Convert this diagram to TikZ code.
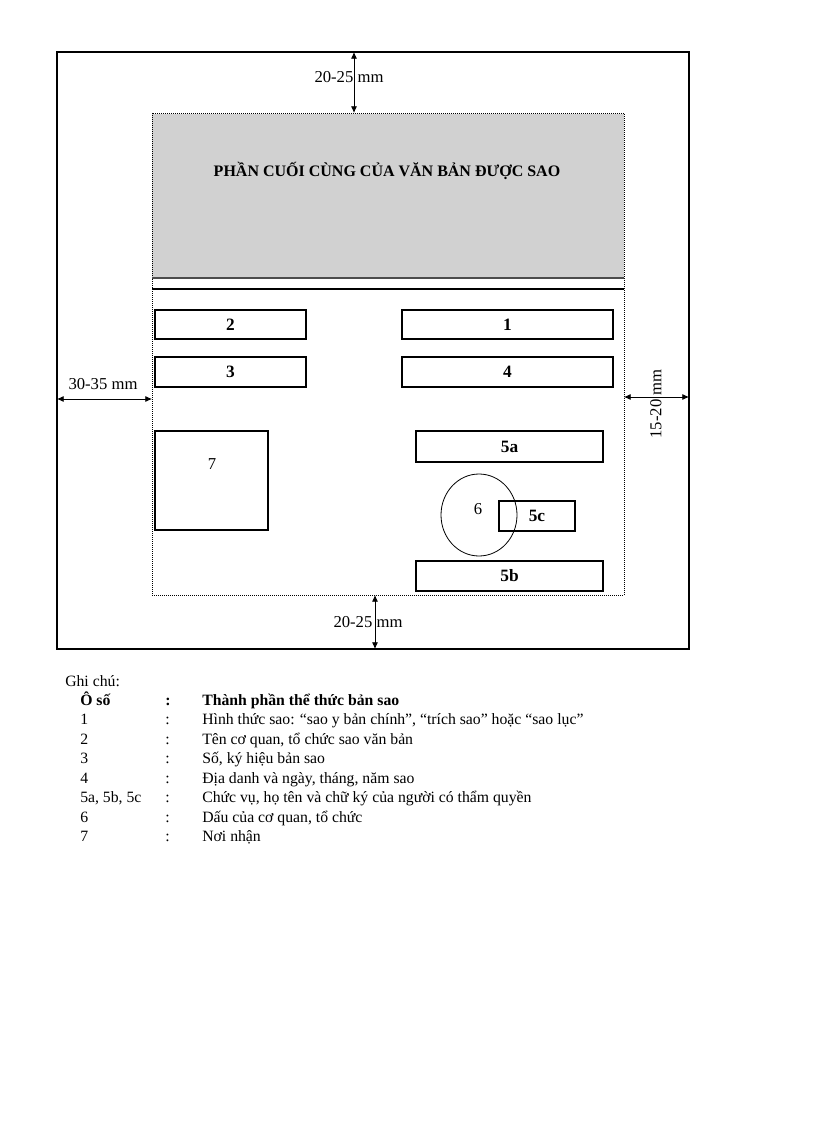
\documentclass[tikz,border=0pt]{standalone}
\usepackage{fontspec}
\setmainfont{Liberation Serif}
\usetikzlibrary{arrows.meta,fit,shapes.geometric}

\begin{document}
\begin{tikzpicture}[x=0.75pt,y=-0.75pt,
    box/.style={draw, line width=0.8pt, inner sep=0pt},
    boxlabel/.style={font=\bfseries\fontsize{13}{15}\selectfont},
    dim/.style={{Latex[length=5pt,width=4.5pt]}-{Latex[length=5pt,width=4.5pt]}, line width=0.6pt},
    dimlabel/.style={inner sep=0pt, font=\fontsize{12.5}{14}\selectfont},
    legend/.style={anchor=base west, inner sep=0pt, font=\fontsize{11.8}{13}\selectfont},
    legendhead/.style={legend, font=\bfseries\fontsize{11.8}{13}\selectfont}]

    \useasboundingbox (0,0) rectangle (816,1123);

    % Page frame and copied text area
    \coordinate (pageNW) at (57,52);
    \coordinate (pageSE) at (689,649);
    \coordinate (areaNW) at (152,113);
    \coordinate (areaSE) at (624,595);
    \draw[line width=0.8pt] (pageNW) rectangle (pageSE);

    % Last part of the copied document
    \fill[black!18] (152,114) rectangle (624,278);
    \draw[densely dotted, line width=0.5pt] (areaNW) rectangle (areaSE);
    \draw[black!70, line width=1.4pt] (152,278) -- (624,278);
    \draw[line width=1.6pt] (152,289) -- (624,289);
    \node[font=\bfseries\fontsize{12}{14}\selectfont] (title) at (387,171) {PHẦN CUỐI CÙNG CỦA VĂN BẢN ĐƯỢC SAO};

    % Boxes of the copy
    \node[box, fit={(155,310) (306,339)}, label={[boxlabel]center:2}] (b2) {};
    \node[box, fit={(402,310) (613,339)}, label={[boxlabel]center:1}] (b1) {};
    \node[box, fit={(155,357) (306,387)}, label={[boxlabel]center:3}] (b3) {};
    \node[box, fit={(402,357) (613,387)}, label={[boxlabel]center:4}] (b4) {};
    \node[box, fit={(155,431) (268,530)}] (b7) {};
    \node[font=\fontsize{12.5}{14}\selectfont] (l7) at (212,464) {7};
    \node[box, fit={(416,431) (603,462)}, label={[boxlabel]center:5a}] (b5a) {};
    \node[box, fit={(416,561) (603,591)}, label={[boxlabel]center:5b}] (b5b) {};
    \node[box, fit={(499,501) (575,531)}, label={[boxlabel]center:5c}] (b5c) {};
    \node[draw, ellipse, line width=0.6pt, inner sep=0pt, minimum width=57pt, minimum height=61.5pt] (seal) at (479,515) {};
    \node[font=\fontsize{12.5}{14}\selectfont] (l6) at (478,509) {6};

    % Margins
    \coordinate (topA) at (354,52);
    \coordinate (topB) at (354,113);
    \draw[dim] (topA) -- (topB);
    \node[dimlabel] (mtop) at (349,77) {20-25 mm};

    \coordinate (botA) at (375,595);
    \coordinate (botB) at (375,649);
    \draw[dim] (botA) -- (botB);
    \node[dimlabel] (mbot) at (368,622) {20-25 mm};

    \coordinate (leftA) at (57,399);
    \coordinate (leftB) at (152,399);
    \draw[dim] (leftA) -- (leftB);
    \node[dimlabel] (mleft) at (103,384) {30-35 mm};

    \coordinate (rightA) at (624,397);
    \coordinate (rightB) at (689,397);
    \draw[dim] (rightA) -- (rightB);
    \node[dimlabel, rotate=90] (mright) at (656,404) {15-20 mm};

    % Notes
    \node[legend] (notes) at (65,686) {Ghi chú:};
    \node[legendhead] (hnum) at (80,705) {Ô số};
    \node[legendhead] (hsep) at (165,705) {:};
    \node[legendhead] (htxt) at (202,705) {Thành phần thể thức bản sao};
    \foreach \num/\txt [count=\i] in {
        1/{Hình thức sao: “sao y bản chính”, “trích sao” hoặc “sao lục”},
        2/{Tên cơ quan, tổ chức sao văn bản},
        3/{Số, ký hiệu bản sao},
        4/{Địa danh và ngày, tháng, năm sao},
        {5a, 5b, 5c}/{Chức vụ, họ tên và chữ ký của người có thẩm quyền},
        6/{Dấu của cơ quan, tổ chức},
        7/{Nơi nhận}}{
        \node[legend] (num\i) at (80,705+19.5*\i) {\num};
        \node[legend] (sep\i) at (165,705+19.5*\i) {:};
        \node[legend] (txt\i) at (202,705+19.5*\i) {\txt};
    }
\end{tikzpicture}
\end{document}
